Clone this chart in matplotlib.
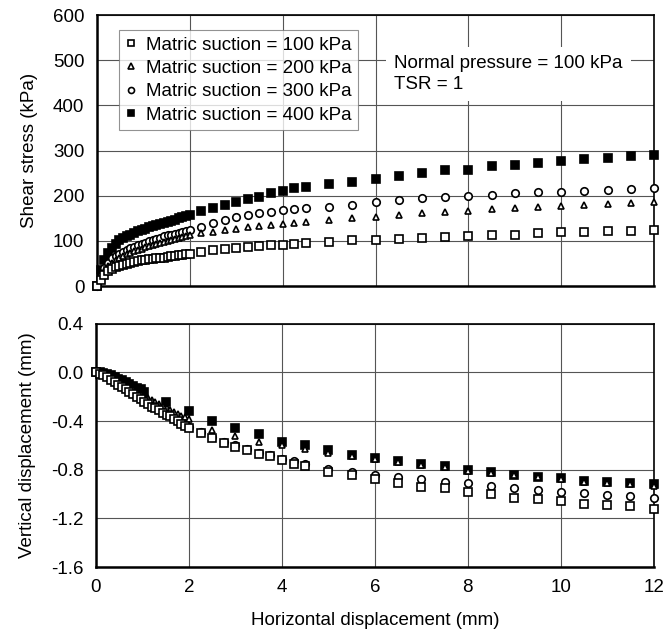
import matplotlib
matplotlib.use("Agg")
import matplotlib.pyplot as plt

plt.rcParams['font.family'] = ['Liberation Sans', 'DejaVu Sans']
plt.rcParams['axes.unicode_minus'] = False

# Horizontal displacement (mm) where readings were taken
shear_x = [0.0, 0.08, 0.16, 0.24, 0.32, 0.4, 0.48, 0.56, 0.64, 0.72, 0.8, 0.88, 0.96,
           1.04, 1.12, 1.2, 1.28, 1.36, 1.44, 1.52, 1.6, 1.68, 1.76, 1.84, 1.92, 2.0,
           2.25, 2.5, 2.75, 3.0, 3.25, 3.5, 3.75, 4.0, 4.25, 4.5,
           5.0, 5.5, 6.0, 6.5, 7.0, 7.5, 8.0, 8.5, 9.0, 9.5,
           10.0, 10.5, 11.0, 11.5, 12.0]

# Shear stress (kPa) for each matric suction
tau_100 = [0, 14, 25, 33, 38, 42, 45, 47, 49, 51, 53, 55, 57,
           58, 59, 60, 61, 62, 63, 64, 66, 67, 68, 69, 70, 72,
           76, 80, 83, 85, 87, 88, 90, 91, 93, 95,
           98, 101, 102, 104, 107, 108, 111, 113, 114, 117,
           119, 120, 121, 122, 124]
tau_200 = [0, 18, 33, 44, 52, 58, 63, 67, 71, 74, 77, 80, 83,
           86, 88, 91, 93, 95, 98, 100, 102, 104, 106, 108, 110, 113,
           117, 120, 124, 127, 130, 132, 135, 138, 140, 142,
           146, 150, 153, 157, 161, 163, 167, 170, 172, 174,
           177, 179, 182, 184, 187]
tau_300 = [0, 22, 40, 52, 61, 67, 72, 76, 80, 84, 87, 90, 93,
           96, 99, 102, 104, 107, 110, 112, 114, 116, 118, 120, 122, 125,
           131, 139, 146, 152, 157, 161, 165, 168, 170, 172,
           176, 179, 187, 190, 194, 198, 199, 201, 205, 209,
           209, 211, 213, 215, 218]
tau_400 = [0, 35, 58, 74, 85, 94, 101, 106, 110, 114, 118, 121, 124,
           127, 130, 132, 135, 137, 140, 142, 145, 147, 150, 152, 155, 157,
           166, 172, 179, 187, 192, 198, 205, 210, 216, 219,
           225, 231, 237, 244, 251, 257, 257, 265, 268, 272,
           277, 281, 283, 288, 290]

# Vertical displacement (mm)
dv_100 = [0.0, -0.01, -0.02, -0.04, -0.06, -0.08, -0.10, -0.12, -0.14, -0.16, -0.18, -0.20, -0.22,
          -0.24, -0.26, -0.28, -0.29, -0.31, -0.33, -0.35, -0.36, -0.38, -0.40, -0.42, -0.44, -0.46,
          -0.50, -0.54, -0.58, -0.61, -0.64, -0.67, -0.69, -0.72, -0.75, -0.77,
          -0.82, -0.84, -0.88, -0.91, -0.94, -0.95, -0.98, -1.00, -1.03, -1.04,
          -1.06, -1.08, -1.09, -1.10, -1.12]
dv_300 = [0.0, -0.005, -0.015, -0.03, -0.05, -0.07, -0.09, -0.11, -0.13, -0.15, -0.17, -0.19, -0.21,
          -0.23, -0.25, -0.27, -0.28, -0.30, -0.32, -0.34, -0.35, -0.37, -0.39, -0.41, -0.43, -0.45,
          -0.49, -0.53, -0.57, -0.60, -0.63, -0.66, -0.68, -0.71, -0.73, -0.75,
          -0.79, -0.82, -0.84, -0.86, -0.88, -0.90, -0.91, -0.93, -0.95, -0.97,
          -0.98, -0.99, -1.01, -1.02, -1.03]

dv_x_200 = [0.0, 0.08, 0.16, 0.24, 0.32, 0.4, 0.48, 0.56, 0.64, 0.72, 0.8, 0.88, 0.96,
            1.04, 1.12, 1.2, 1.28, 1.36, 1.44, 1.52, 1.6, 1.68, 1.76, 1.84, 1.92, 2.0,
            2.5, 3.0, 3.5, 4.0, 4.5,
            5.0, 5.5, 6.0, 6.5, 7.0, 7.5, 8.0, 8.5, 9.0, 9.5,
            10.0, 10.5, 11.0, 11.5, 12.0]
dv_200 = [0.0, -0.005, -0.01, -0.025, -0.04, -0.06, -0.075, -0.09, -0.11, -0.125, -0.14, -0.16, -0.175,
          -0.19, -0.21, -0.225, -0.24, -0.26, -0.275, -0.29, -0.31, -0.325, -0.34, -0.355, -0.37, -0.38,
          -0.47, -0.52, -0.57, -0.60, -0.63,
          -0.66, -0.69, -0.71, -0.74, -0.76, -0.78, -0.81, -0.83, -0.84, -0.86,
          -0.88, -0.90, -0.91, -0.92, -0.93]

dv_x_400 = [0.0, 0.08, 0.16, 0.24, 0.32, 0.4, 0.48, 0.56, 0.64, 0.72, 0.8, 0.88, 0.96, 1.04,
            1.5, 2.0, 2.5, 3.0, 3.5, 4.0, 4.5,
            5.0, 5.5, 6.0, 6.5, 7.0, 7.5, 8.0, 8.5, 9.0, 9.5,
            10.0, 10.5, 11.0, 11.5, 12.0]
dv_400 = [0.0, 0.0, -0.005, -0.01, -0.02, -0.035, -0.05, -0.065, -0.08, -0.095, -0.11, -0.125, -0.14, -0.16,
          -0.24, -0.32, -0.40, -0.46, -0.51, -0.57, -0.60,
          -0.64, -0.68, -0.70, -0.73, -0.75, -0.77, -0.80, -0.82, -0.84, -0.86,
          -0.87, -0.89, -0.90, -0.91, -0.92]

labels = ['Matric suction = 100 kPa', 'Matric suction = 200 kPa',
          'Matric suction = 300 kPa', 'Matric suction = 400 kPa']
x_ticks = [0, 2, 4, 6, 8, 10, 12]
tau_ticks = [0, 100, 200, 300, 400, 500, 600]
dv_ticks = [0.4, 0.0, -0.4, -0.8, -1.2, -1.6]

FS = 13.5

# marker style per series: (marker, face, size, zorder)
styles = [('s', 'white', 5.2, 6), ('^', 'white', 5.0, 5),
          ('o', 'white', 5.4, 4), ('s', 'black', 6.2, 3)]

fig = plt.figure(figsize=(6.72, 6.30), dpi=100)
ax1 = fig.add_axes([0.1443, 0.546, 0.829, 0.430])
ax2 = fig.add_axes([0.1428, 0.100, 0.830, 0.386])

def style_axis(ax):
    ax.grid(True, color='#555555', linewidth=0.8)
    ax.set_axisbelow(True)
    ax.set_xlim(0, 12)
    ax.set_xticks(x_ticks)
    ax.tick_params(length=0, labelsize=FS, pad=9)
    for side in ['left', 'bottom']:
        ax.spines[side].set_linewidth(1.8)
    for side in ['top', 'right']:
        ax.spines[side].set_linewidth(1.2)

# top: shear stress
taus = [tau_100, tau_200, tau_300, tau_400]
for tau, lab, (m, fc, ms, z) in zip(taus, labels, styles):
    ax1.plot(shear_x, tau, linestyle='none', marker=m, markersize=ms,
             markerfacecolor=fc, markeredgecolor='black', markeredgewidth=1.2,
             label=lab, zorder=z, clip_on=False)
style_axis(ax1)
ax1.set_ylim(0, 600)
ax1.set_yticks(tau_ticks)
ax1.set_xticklabels([])
ax1.set_ylabel('Shear stress (kPa)', fontsize=FS, labelpad=11)
leg = ax1.legend(loc='upper left', bbox_to_anchor=(0.04, 0.945), borderaxespad=0,
                 fontsize=FS, frameon=True, fancybox=False, edgecolor='#777777',
                 handlelength=0.6, handletextpad=0.45, borderpad=0.35,
                 labelspacing=0.33, markerscale=0.8)
leg.get_frame().set_linewidth(0.8)
leg.set_zorder(10)
ax1.text(6.4, 512, 'Normal pressure = 100 kPa\nTSR = 1', fontsize=FS,
         va='top', ha='left', linespacing=1.3, zorder=9,
         bbox=dict(facecolor='white', edgecolor='none', pad=6))

# bottom: vertical displacement
dv_x = [shear_x, dv_x_200, shear_x, dv_x_400]
dvs = [dv_100, dv_200, dv_300, dv_400]
for xs, dv, (m, fc, ms, z) in zip(dv_x, dvs, styles):
    ax2.plot(xs, dv, linestyle='none', marker=m, markersize=ms,
             markerfacecolor=fc, markeredgecolor='black', markeredgewidth=1.2,
             zorder=z, clip_on=False)
style_axis(ax2)
ax2.set_ylim(-1.6, 0.4)
ax2.set_yticks(dv_ticks)
ax2.set_yticklabels(['%.1f' % v for v in dv_ticks])
ax2.set_ylabel('Vertical displacement (mm)', fontsize=FS, labelpad=11)
ax2.set_xlabel('Horizontal displacement (mm)', fontsize=FS, labelpad=11)

fig.savefig('out.png', dpi=100, facecolor='white')
